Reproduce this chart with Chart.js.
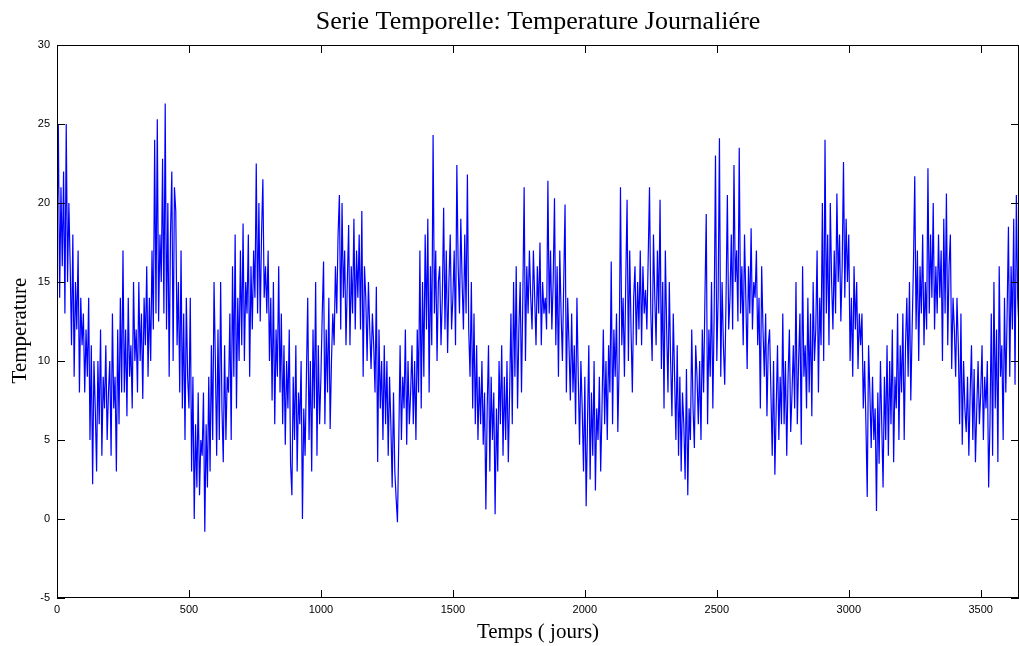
<!DOCTYPE html>
<html lang="fr">
<head>
  <meta charset="UTF-8" />
  <title>Serie Temporelle: Temperature Journaliére</title>
  <script src="https://cdn.jsdelivr.net/npm/chart.js"></script>
  <style>
    html, body {
      margin: 0;
      padding: 0;
      background: #fff;
    }
    #wrap {
      width: 1019px;
      height: 646px;
    }
  </style>
</head>
<body>
  <div id="wrap"><canvas id="serie" width="1019" height="646"></canvas></div>

  <script>
    // une valeur tous les 5 jours
    const pasJours = 5;
    const temperature = [
      18, 25, 14, 21, 16, 22, 13, 25, 15, 20,
      16, 11, 18, 9, 15, 12, 17, 8, 14, 11,
      13, 8, 12, 9, 14, 5, 11, 2.2, 10, 7,
      3, 10, 6, 12, 4, 9, 7, 11, 5, 8,
      10, 4, 13, 7, 9, 3, 12, 6, 14, 8,
      17, 8, 12, 6.5, 14, 9, 11, 7, 15, 10,
      12, 8, 15, 10, 13, 7.6, 14, 11, 16, 9,
      14, 10, 17, 12, 24, 13, 25.3, 12.5, 18, 15,
      22.8, 13, 26.3, 12, 20, 9, 18, 22, 10, 21,
      19.5, 11, 15, 8, 17, 7, 13, 5, 14, 9,
      // 500
      7, 14, 3, 9, 0, 6, 2, 8, 1.5, 5,
      4, 8, -0.8, 6, 2, 9, 3, 11, 5, 15,
      10, 4, 12, 5, 15, 7, 3.6, 11, 5, 9,
      8, 13, 5, 16, 9, 18, 7, 14, 10, 17,
      11, 18.7, 10, 15, 13, 18, 9, 16, 12, 17,
      14, 22.5, 13, 20, 12.5, 18, 21.5, 14, 16, 13,
      17, 10, 14, 7.5, 15, 6, 12, 9, 16, 8,
      13, 6, 11, 4.7, 10, 7, 12, 3.5, 1.5, 9,
      5, 11, 3, 8, 6, 10, 0, 7, 4, 9,
      14, 5, 10, 3, 12, 7, 15, 4, 11, 6,
      // 1000
      9, 13, 16.3, 6, 12, 8, 14, 5.7, 10, 13,
      11, 16, 13, 18, 20.5, 12, 20, 14, 17, 11,
      15, 18.6, 11, 16, 13, 19, 12, 17, 14, 18,
      12, 19.5, 9, 16, 14, 10, 15, 12, 9.5, 13,
      11, 8, 14.7, 3.6, 12, 7, 10, 5, 11, 6,
      10, 4, 9, 6, 2, 8, 3, 1.3, -0.2, 5,
      11, 5, 9, 7, 12, 4.7, 10, 6, 8, 11,
      6, 10, 5, 12, 8, 17, 7, 15, 9, 18,
      12, 19, 8, 16, 11, 24.3, 13, 17, 10, 15,
      16, 11, 14, 19.7, 12, 17, 10.5, 15, 18, 12,
      // 1500
      14, 17, 11, 22.4, 16, 13, 19, 15, 12, 18,
      13, 21.8, 12, 9, 15, 7, 13, 6, 11, 5,
      9, 6, 10, 4.7, 8, 0.6, 7, 11, 3, 9,
      5, 8, 0.3, 7, 3, 10, 6, 11, 4, 9,
      5, 10, 3.6, 8, 13, 6, 15, 9, 16, 7,
      12, 15, 8, 14, 21, 10, 16, 13, 17, 14,
      12, 17, 14, 11, 16, 13, 17.5, 11, 15, 13,
      14, 12, 21.4, 13, 17, 12, 15, 20.3, 11, 16,
      9, 17, 13, 10, 15, 19.9, 8, 14, 11, 7.5,
      13, 8, 11, 6, 14, 9, 4.7, 10, 7, 3,
      // 2000
      9, 0.8, 6, 11, 2.5, 8, 4, 10, 1.8, 7,
      5, 9, 3, 7, 12, 6, 10, 5, 11, 8,
      16.3, 6, 12, 9, 13, 5.5, 10, 21, 11, 14,
      9, 15, 20.2, 10, 17, 12, 8, 14, 16, 11,
      15, 12, 17, 11, 16, 13, 14.5, 12, 16.5, 21,
      13, 10, 18, 14, 11, 17, 13, 20.2, 9.5, 15,
      7, 17, 12, 8, 15, 10, 6.5, 13, 9, 5,
      11, 4, 9, 3, 8, 6, 2.5, 9.5, 1.5, 7,
      5, 12, 7, 4.5, 11, 9, 6, 10, 5, 12,
      8, 14, 19.3, 6, 12, 9, 15, 7, 13, 23,
      // 2500
      10, 14, 24.1, 9, 15, 11, 8.5, 14, 20.5, 12,
      14, 18, 12, 22.4, 15, 17, 12.5, 23.5, 13, 16,
      11, 18, 14, 9.5, 16, 13, 18.4, 12, 15, 14,
      17, 11, 14, 7, 16, 12, 9, 13, 6.5, 11,
      12, 8, 4, 10, 2.8, 7, 11, 5, 9, 6,
      13, 6, 10, 4, 9, 12, 5.5, 8, 11, 7,
      15, 6, 10, 13, 4.7, 16, 9, 11, 7, 14,
      8, 13, 6.5, 15, 10, 12, 17, 8, 14, 11,
      20, 10, 24, 13, 18, 11, 20, 15, 12, 17,
      13, 20.6, 15, 18, 12.5, 16, 22.6, 14, 19, 15,
      // 3000
      18, 10, 14, 9, 16, 12, 15, 9.5, 13, 11,
      13, 7, 10, 6, 1.4, 11, 8, 4.5, 9, 5,
      7, 0.5, 8, 3.5, 10, 6, 2, 9, 5, 11,
      4, 10, 6, 12, 3.6, 9, 7, 13, 5, 11,
      8, 13, 5, 11, 14, 9, 15, 7.5, 12, 16,
      21.7, 12, 17, 10, 16, 13, 18, 11, 15, 12,
      22.2, 13, 18, 14, 20, 12, 16, 13, 18, 14,
      17, 10, 19, 13, 20.6, 11, 16, 18, 9.5, 14,
      12, 9, 14, 11, 6, 13, 4.7, 10, 7, 5.5,
      9, 4, 8, 11, 5, 9.5, 3.6, 7, 10, 6,
      // 3500
      8, 11, 5, 9, 7, 10, 2, 6, 13, 4,
      15, 7, 12, 3.6, 16, 9, 11, 5, 14, 8,
      13, 18.5, 9, 16, 12, 19, 8.5, 20.5, 14, 12
    ];
    const ticksX = [0, 500, 1000, 1500, 2000, 2500, 3000, 3500];
    const ticksY = [-5, 0, 5, 10, 15, 20, 25, 30];

    const titre = 'Serie Temporelle: Temperature Journaliére';
    const titreX = 'Temps ( jours)';
    const titreY = 'Temperature';

    const points = temperature.map((v, i) => ({ x: i * pasJours, y: v }));

    // cadre + graduations vers l'intérieur, façon matlab
    const cadreMatlab = {
      id: 'cadreMatlab',
      afterDraw(chart) {
        const { ctx, chartArea: a } = chart;
        const sx = chart.scales.x, sy = chart.scales.y;
        const lg = 8;
        ctx.save();
        ctx.strokeStyle = '#000';
        ctx.lineWidth = 1;
        ctx.strokeRect(a.left + 0.5, a.top + 0.5, a.right - a.left - 1, a.bottom - a.top - 1);

        ctx.beginPath();
        ticksX.forEach(v => {
          const px = Math.round(sx.getPixelForValue(v)) + 0.5;
          ctx.moveTo(px, a.bottom);
          ctx.lineTo(px, a.bottom - lg);
          ctx.moveTo(px, a.top);
          ctx.lineTo(px, a.top + lg);
        });
        ticksY.forEach(v => {
          const py = Math.round(sy.getPixelForValue(v)) + 0.5;
          ctx.moveTo(a.left, py);
          ctx.lineTo(a.left + lg, py);
          ctx.moveTo(a.right, py);
          ctx.lineTo(a.right - lg, py);
        });
        ctx.stroke();

        const cx = (a.left + a.right) / 2;
        const cy = (a.top + a.bottom) / 2;
        ctx.fillStyle = '#000';
        ctx.textAlign = 'center';
        ctx.textBaseline = 'middle';
        ctx.font = '26px "Liberation Serif", "Times New Roman", serif';
        ctx.fillText(titre, cx, 22);
        ctx.font = '21px "Liberation Serif", "Times New Roman", serif';
        ctx.fillText(titreX, cx, 632);
        ctx.translate(20, cy + 9);
        ctx.rotate(-Math.PI / 2);
        ctx.fillText(titreY, 0, 0);
        ctx.restore();
      }
    };

    const ctx = document.getElementById('serie').getContext('2d');
    new Chart(ctx, {
      type: 'line',
      data: {
        datasets: [{
          label: titreY,
          data: points,
          borderColor: '#0000ff',
          borderWidth: 1.2,
          pointRadius: 0,
          tension: 0,
          fill: false
        }]
      },
      options: {
        responsive: false,
        animation: false,
        devicePixelRatio: 1,
        layout: { padding: { top: 45, right: 0, left: 0, bottom: 0 } },
        plugins: {
          legend: { display: false },
          tooltip: { enabled: false },
          title: { display: false }
        },
        scales: {
          x: {
            type: 'linear',
            min: 0,
            max: 3645,
            grid: { display: false, drawTicks: false },
            border: { display: false },
            afterBuildTicks: s => { s.ticks = ticksX.map(v => ({ value: v })); },
            afterFit: s => { s.height = 48; },
            ticks: {
              color: '#000',
              padding: 5,
              maxRotation: 0,
              callback: v => String(v),
              font: { family: 'Arial, "Liberation Sans", sans-serif', size: 11 }
            }
          },
          y: {
            min: -5,
            max: 30,
            grid: { display: false, drawTicks: false },
            border: { display: false },
            afterBuildTicks: s => { s.ticks = ticksY.map(v => ({ value: v })); },
            afterFit: s => { s.width = 57; },
            ticks: {
              color: '#000',
              padding: 7,
              callback: v => String(v),
              font: { family: 'Arial, "Liberation Sans", sans-serif', size: 11 }
            }
          }
        }
      },
      plugins: [cadreMatlab]
    });
  </script>
</body>
</html>
